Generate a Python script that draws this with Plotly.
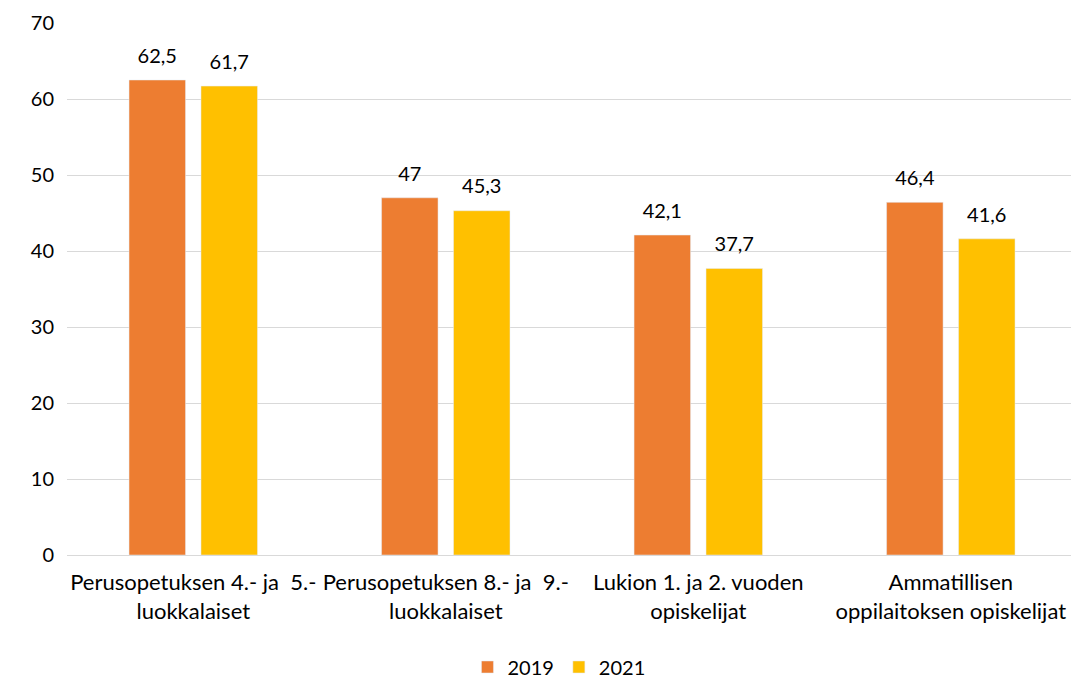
import plotly.graph_objects as go

categories = [
    "Perusopetuksen 4.- ja  5.-<br>luokkalaiset",
    "Perusopetuksen 8.- ja  9.-<br>luokkalaiset",
    "Lukion 1. ja 2. vuoden<br>opiskelijat",
    "Ammatillisen<br>oppilaitoksen opiskelijat",
]
series_names = ["2019", "2021"]
values_2019 = [62.5, 47, 42.1, 46.4]
values_2021 = [61.7, 45.3, 37.7, 41.6]
colors = ["#ED7D31", "#FFC000"]
y_ticks = [0, 10, 20, 30, 40, 50, 60, 70]


def fmt(v):
    s = ("%g" % v)
    return s.replace(".", ",")


FONT = "Lato, Open Sans, sans-serif"
FS = 20

fig = go.Figure()
for name, vals, col in zip(series_names, [values_2019, values_2021], colors):
    fig.add_trace(go.Bar(
        x=categories, y=vals, name=name, marker_color=col,
        offsetgroup=name, alignmentgroup="a", hoverinfo="skip",
    ))
for name, vals in zip(series_names, [values_2019, values_2021]):
    fig.add_trace(go.Scatter(
        x=categories, y=vals, mode="markers+text",
        text=[fmt(v) for v in vals], textposition="top center",
        textfont=dict(family=FONT, size=FS, color="#000000"),
        marker=dict(size=18, opacity=0),
        offsetgroup=name, alignmentgroup="a",
        showlegend=False, hoverinfo="skip", cliponaxis=False,
    ))

fig.update_layout(
    width=1071, height=678,
    paper_bgcolor="white", plot_bgcolor="white",
    barmode="group", scattermode="group",
    bargap=0.43, bargroupgap=0.215,
    margin=dict(l=67, r=0, t=23, b=123, autoexpand=False),
    font=dict(family=FONT, size=FS, color="#000000"),
    legend=dict(orientation="h", x=0.49, xanchor="center", y=-0.2105, yanchor="middle",
                font=dict(size=FS), traceorder="normal", itemwidth=30),
    showlegend=True,
)
fig.update_xaxes(showline=False, ticks="", showgrid=False, range=[-0.5, 3.476],
                 tickfont=dict(size=22), automargin=False, ticklabelstandoff=12)
fig.update_yaxes(range=[0, 70], tickvals=y_ticks, showgrid=True, gridcolor="#D9D9D9",
                 gridwidth=1, zeroline=True, zerolinecolor="#D9D9D9", zerolinewidth=1,
                 showline=False, ticks="", ticklabelstandoff=12,
                 tickfont=dict(size=FS), automargin=False)

fig.write_html(
    "out.html",
    config={"displayModeBar": False},
    post_script="document.body.style.margin='0';"
                "document.body.style.overflow='hidden';"
                "document.documentElement.style.overflow='hidden';",
)
